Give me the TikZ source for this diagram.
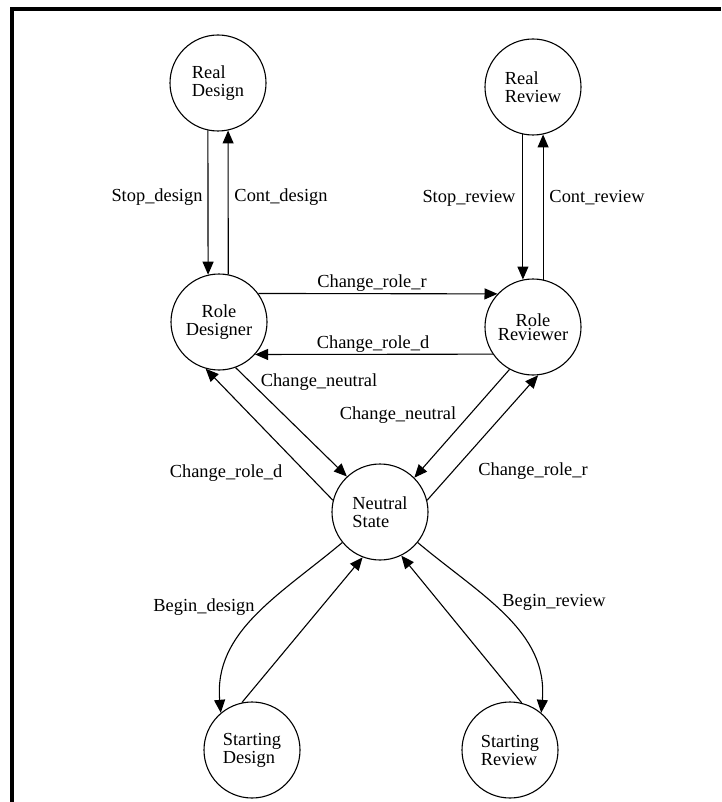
\documentclass[tikz,border=0pt]{standalone}
\usepackage{fontspec}
\setmainfont{Liberation Serif}
\usetikzlibrary{arrows.meta}
\begin{document}
\begin{tikzpicture}[x=1pt,y=1pt,
  state/.style={circle,draw,line width=1.1pt,minimum size=96pt,inner sep=0pt,
    font=\fontsize{18.4}{18}\selectfont,align=left},
  trans/.style={line width=1.1pt,-{Triangle[length=13pt,width=11pt]}},
  lbl/.style={font=\fontsize{18.4}{18}\selectfont,inner sep=0pt}]
\useasboundingbox (0,0) rectangle (721,-802);
% outer frame (top and left sides)
\draw[line width=3.5pt] (12,-802) -- (12,-9) -- (721,-9);

% states
\node[state] (RD) at (218,-83) {Real\\Design};
\node[state] (RR) at (533,-87) {Real\\Review};
\node[state,align=center] (RoD) at (219,-322) {Role\\Designer};
\node[state,align=center] (RoR) at (533,-327) {Role\\[-4pt]Reviewer};
\node[state] (NS) at (380,-512) {Neutral\\State};
\node[state] (SD) at (252,-750) {Starting\\Design};
\node[state] (SR) at (510,-750) {Starting\\Review};

% design loop
\draw[trans] (RD.258) -- (RoD.103);
\draw[trans] (RoD.79) -- (RD.282);
% review loop
\draw[trans] (RR.258) -- (RoR.102);
\draw[trans] (RoR.78) -- (RR.282);
% role changes
\draw[trans] (RoD.36) -- (RoR.137);
\draw[trans] (RoR.214) -- (RoD.318);
% to and from the neutral state
\draw[trans] (RoD.290) -- (NS.133);
\draw[trans] (NS.166) -- (RoD.254);
\draw[trans] (RoR.241) -- (NS.45);
\draw[trans] (NS.14) -- (RoR.276);
% starting states
\draw[trans] (NS.219) to[out=220,in=95] (SD.130);
\draw[trans] (SD.102) -- (NS.249);
\draw[trans] (NS.321) to[out=-40,in=85] (SR.50);
\draw[trans] (SR.76) -- (NS.296);

% transition labels
\node[lbl] (l1) at (157,-197) {Stop\_design};
\node[lbl] (l2) at (281,-197) {Cont\_design};
\node[lbl] (l3) at (469,-198) {Stop\_review};
\node[lbl] (l4) at (597,-198) {Cont\_review};
\node[lbl] (l5) at (372,-283) {Change\_role\_r};
\node[lbl] (l6) at (373,-344) {Change\_role\_d};
\node[lbl] (l7) at (319,-382) {Change\_neutral};
\node[lbl] (l8) at (398,-415) {Change\_neutral};
\node[lbl] (l9) at (226,-473) {Change\_role\_d};
\node[lbl] (l10) at (533,-471) {Change\_role\_r};
\node[lbl] (l11) at (204,-607) {Begin\_design};
\node[lbl] (l12) at (554,-602) {Begin\_review};
\end{tikzpicture}
\end{document}
